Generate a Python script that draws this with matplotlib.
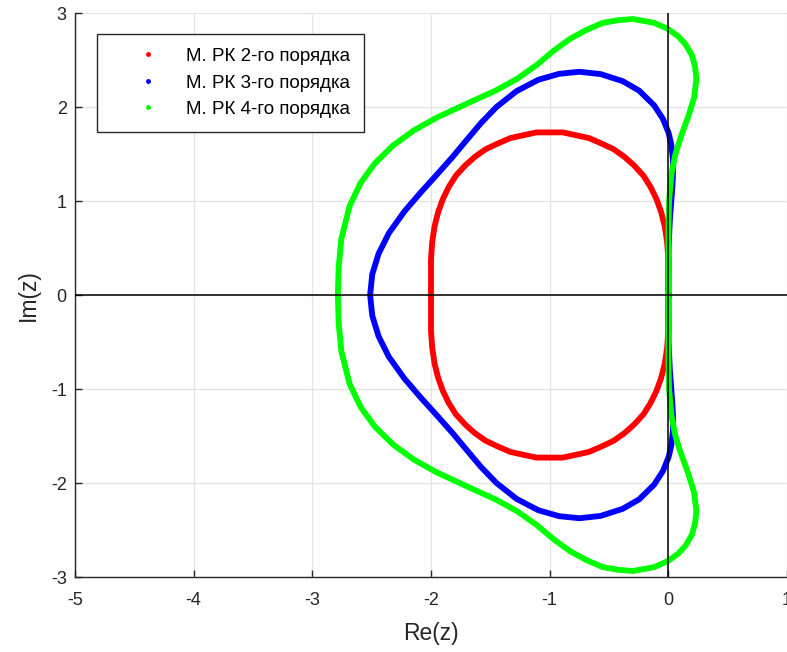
import numpy as np
import matplotlib
matplotlib.use("Agg")
import matplotlib.pyplot as plt
from matplotlib.lines import Line2D

plt.rcParams['font.family'] = ['Liberation Sans', 'DejaVu Sans']
plt.rcParams['axes.unicode_minus'] = False

# upper half of each stability boundary (Re, Im)
rk2_x = [0.00, 0.00, 0.00, -0.01, -0.03, -0.06, -0.10, -0.15, -0.21, -0.29, -0.37, -0.46,
         -0.56, -0.67, -0.78, -0.89, -1.00, -1.11, -1.22, -1.33, -1.44, -1.54, -1.63,
         -1.71, -1.79, -1.85, -1.90, -1.94, -1.97, -1.99, -2.00, -2.00, -2.00]
rk2_y = [0.00, 0.20, 0.38, 0.56, 0.73, 0.88, 1.02, 1.15, 1.27, 1.38, 1.47, 1.55,
         1.61, 1.67, 1.70, 1.73, 1.73, 1.73, 1.70, 1.67, 1.61, 1.55, 1.47,
         1.38, 1.27, 1.15, 1.02, 0.88, 0.73, 0.56, 0.38, 0.20, 0.00]

rk3_x = [0.000, 0.002, 0.013, 0.025, 0.034, 0.040, 0.038, 0.025, 0.007, 0.000, -0.045,
         -0.12, -0.246, -0.385, -0.57, -0.75, -0.92, -1.095, -1.279, -1.449, -1.579,
         -1.699, -1.818, -1.946, -2.088, -2.224, -2.355, -2.442, -2.495, -2.513]
rk3_y = [0.00, 0.50, 0.80, 1.00, 1.15, 1.30, 1.45, 1.60, 1.70, 1.732, 1.872,
         2.018, 2.174, 2.275, 2.350, 2.375, 2.353, 2.290, 2.169, 1.999, 1.829,
         1.649, 1.469, 1.287, 1.089, 0.889, 0.658, 0.438, 0.22, 0.00]

rk4_x = [0.000, 0.001, 0.006, 0.028, 0.060, 0.102, 0.170, 0.217, 0.237, 0.225, 0.199,
         0.145, 0.082, 0.000, -0.12, -0.30, -0.42, -0.552, -0.69, -0.826, -0.965,
         -1.103, -1.273, -1.453, -1.694, -1.958, -2.143, -2.320, -2.472, -2.594,
         -2.686, -2.755, -2.778, -2.785]
rk4_y = [0.00, 0.70, 1.00, 1.30, 1.50, 1.67, 1.907, 2.10, 2.30, 2.43, 2.55,
         2.667, 2.753, 2.828, 2.896, 2.936, 2.924, 2.895, 2.82, 2.727, 2.60,
         2.453, 2.301, 2.176, 2.038, 1.883, 1.752, 1.590, 1.402, 1.19,
         0.946, 0.601, 0.30, 0.00]

labels = ['М. РК 2-го порядка', 'М. РК 3-го порядка', 'М. РК 4-го порядка']
colors = ['#ff0000', '#0000ff', '#00ff00']


def closed(x, y):
    # the curves are symmetric about the real axis
    x = np.array(x)
    y = np.array(y)
    return np.concatenate([x, x[::-1]]), np.concatenate([y, -y[::-1]])


fig = plt.figure(figsize=(7.87, 6.52), dpi=100)
ax = fig.add_axes([75 / 787, 1 - 577 / 652, 712 / 787, 564 / 652])

curves = [(rk2_x, rk2_y), (rk3_x, rk3_y), (rk4_x, rk4_y)]
for (cx, cy), c in zip(curves, colors):
    xx, yy = closed(cx, cy)
    ax.plot(xx, yy, color=c, linewidth=4.2, solid_joinstyle='round', zorder=2)

ax.axhline(0, color='k', linewidth=1.1, zorder=3)
ax.axvline(0, color='k', linewidth=1.1, zorder=3)

ax.set_xlim(-5, 1)
ax.set_ylim(-3, 3)
ax.set_xticks(range(-5, 2))
ax.set_yticks(range(-3, 4))
ax.grid(True, color='#e3e3e3', linewidth=0.9)
ax.set_axisbelow(True)
for s in ['top', 'right']:
    ax.spines[s].set_visible(False)
for s in ['left', 'bottom']:
    ax.spines[s].set_color('#262626')
    ax.spines[s].set_linewidth(1.0)
ax.tick_params(direction='in', length=5, width=1, color='#262626',
               labelsize=13, labelcolor='#262626')
ax.tick_params(axis='x', pad=11)
ax.tick_params(axis='y', pad=6)

ax.set_xlabel('Re(z)', fontsize=16.5, color='#262626')
ax.set_ylabel('Im(z)', fontsize=16.5, color='#262626')
ax.xaxis.set_label_coords(0.5, -0.08)
ax.yaxis.set_label_coords(-0.049, 0.5)

handles = [Line2D([], [], color=c, marker='.', markersize=5, linestyle='none') for c in colors]
leg = ax.legend(handles, labels, loc='upper left', bbox_to_anchor=(0.031, 0.963),
                borderaxespad=0, fontsize=13.5, frameon=True, fancybox=False,
                framealpha=1, edgecolor='#262626', handlelength=3.9,
                handletextpad=0.1, borderpad=0.75, labelspacing=0.5)
leg.get_frame().set_linewidth(1.0)
leg.set_zorder(5)

fig.savefig('out.png', dpi=100)
